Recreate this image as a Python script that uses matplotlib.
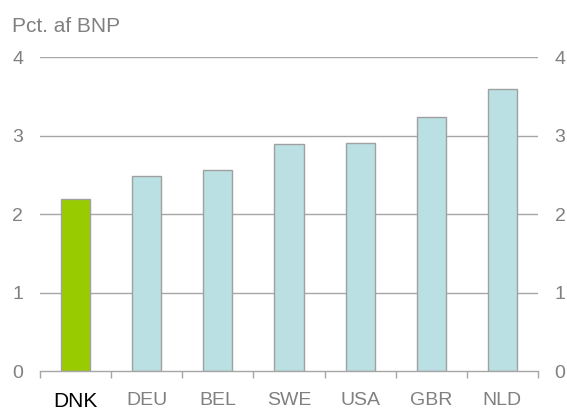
import matplotlib
matplotlib.use("Agg")
import matplotlib.pyplot as plt
import numpy as np

categories = ["DNK", "DEU", "BEL", "SWE", "USA", "GBR", "NLD"]
values = [2.19, 2.49, 2.56, 2.89, 2.90, 3.24, 3.59]
yticks = [0, 1, 2, 3, 4]
title = "Pct. af BNP"

plt.rcParams['font.family'] = ['Liberation Sans', 'DejaVu Sans']

W, H = 567, 412
fig = plt.figure(figsize=(W / 100, H / 100), dpi=100)
ax = fig.add_axes([40 / W, 1 - 371 / H, (538 - 40) / W, (371 - 57) / H])

grey = "#808080"
gridc = "#a6a6a6"
colors = ["#99cc00"] + ["#bae0e3"] * (len(categories) - 1)
x = np.arange(len(categories))
ax.bar(x, values, width=0.41, color=colors, edgecolor="#a0a0a0", linewidth=1.0, zorder=3)

ax.set_xlim(-0.5, len(categories) - 0.5)
ax.set_ylim(0, 4)
ax.set_yticks(yticks)
ax.set_yticklabels([str(v) for v in yticks])
for v in yticks[1:]:
    ax.axhline(v, color=gridc, linewidth=1.0, zorder=1)

for s in ["top", "left", "right"]:
    ax.spines[s].set_visible(False)
ax.spines["bottom"].set_color(gridc)
ax.spines["bottom"].set_linewidth(1.0)
ax.spines["bottom"].set_zorder(4)

ax.tick_params(axis="y", length=0, pad=12, labelsize=14, labelcolor=grey,
               left=True, right=True, labelleft=True, labelright=True)
ax.set_xticks(x)
ax.set_xticklabels(categories)
ax.tick_params(axis="x", which="major", length=0, pad=15, labelsize=14, labelcolor=grey)
ax.set_xticks(np.arange(len(categories) + 1) - 0.5, minor=True)
ax.tick_params(axis="x", which="minor", length=5, width=1.0, color=gridc, direction="out")
first = ax.get_xticklabels()[0]
first.set_color("black")
first.set_fontsize(15)

fig.text(12 / W, 1 - 32 / H, title, fontsize=15, color=grey, ha="left", va="baseline")

fig.savefig("out.png", dpi=100)
